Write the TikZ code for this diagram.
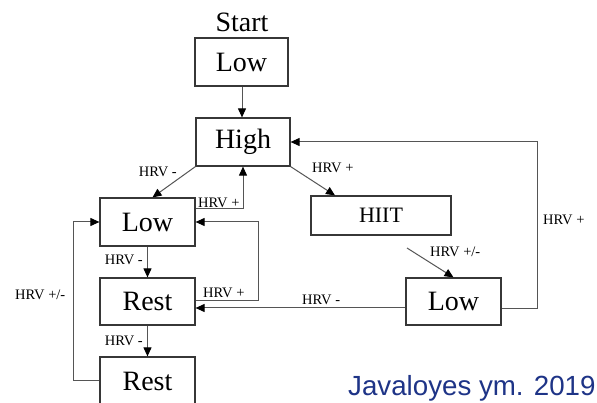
\documentclass[tikz,border=0pt]{standalone}
\usepackage{fontspec}
\setmainfont{Liberation Serif}
\newfontfamily\capfont{Liberation Sans}
\usetikzlibrary{arrows.meta,calc}
\definecolor{linegray}{RGB}{85,85,85}
\definecolor{boxgray}{RGB}{55,55,55}
\definecolor{capblue}{RGB}{30,52,135}
\begin{document}
\begin{tikzpicture}[x=1pt,y=-1pt,
  box/.style={draw=boxgray,line width=1.2pt,inner sep=0,minimum height=48pt,minimum width=95pt,font=\fontsize{28}{30}\selectfont},
  conn/.style={draw=linegray,line width=1pt,-{Triangle[length=9pt,width=8pt,color=black]}},
  lbl/.style={inner sep=0,font=\fontsize{14.5}{16}\selectfont}]
\useasboundingbox[fill=white] (0,0) rectangle (597,403);
\node[font=\fontsize{28}{30}\selectfont,inner sep=0] (start) at (242,22) {Start};
\node[box,minimum width=93pt] (low1) at (241.5,62) {Low};
\node[box,minimum width=94pt] (high) at (243,142) {High};
\node[box] (low2) at (147.5,222) {Low};
\node[box,minimum width=140pt,minimum height=39pt,font=\fontsize{22}{24}\selectfont] (hiit) at (381,215.5) {HIIT};
\node[box,minimum height=47pt] (low3) at (453.5,301.5) {Low};
\node[box,minimum height=47pt] (rest1) at (147.5,301.5) {Rest};
\node[box] (rest2) at (147.5,381) {Rest};
\coordinate (pm) at (407,248);
% connectors
\draw[conn] (low1.south -| 242,0) -- (high.north -| 242,0);
\draw[conn] (high.south west) -- ($(low2.north)+(5,0)$);
\draw[conn] (low2.east |- 0,209) -- (243,209) -- (high.south -| 243,0);
\draw[conn] (high.south east) -- (hiit.north -| 335,0);
\draw[conn] (pm) -- (low3.north);
\draw[conn] (low3.east |- 0,309) -- (537,309) -- (537,142) -- (high.east);
\draw[conn] (low3.west |- 0,308) -- (rest1.east |- 0,308);
\draw[conn] (rest1.east |- 0,301) -- (258,301) -- (258,222) -- (low2.east);
\draw[conn] (low2.south) -- (rest1.north);
\draw[conn] (rest1.south) -- (rest2.north);
\draw[conn] (rest2.west |- 0,380) -- (73,380) -- (73,222) -- (low2.west);
% labels
\node[lbl,anchor=east] (l1) at (177,172) {HRV -};
\node[lbl,anchor=west] (l2) at (198,203) {HRV +};
\node[lbl,anchor=west] (l3) at (312,168) {HRV +};
\node[lbl,anchor=west] (l4) at (430,252) {HRV +/-};
\node[lbl,anchor=west] (l5) at (543,220) {HRV +};
\node[lbl,anchor=west] (l6) at (302,300) {HRV -};
\node[lbl,anchor=west] (l7) at (203,293) {HRV +};
\node[lbl,anchor=east] (l8) at (143,260) {HRV -};
\node[lbl,anchor=east] (l9) at (143,341) {HRV -};
\node[lbl,anchor=west] (l10) at (15,295) {HRV +/-};
\node[anchor=base west,inner sep=0,text=capblue,font=\capfont\fontsize{27.7}{30}\selectfont] (cap) at (348,395) {Javaloyes ym. 2019};
\end{tikzpicture}
\end{document}
